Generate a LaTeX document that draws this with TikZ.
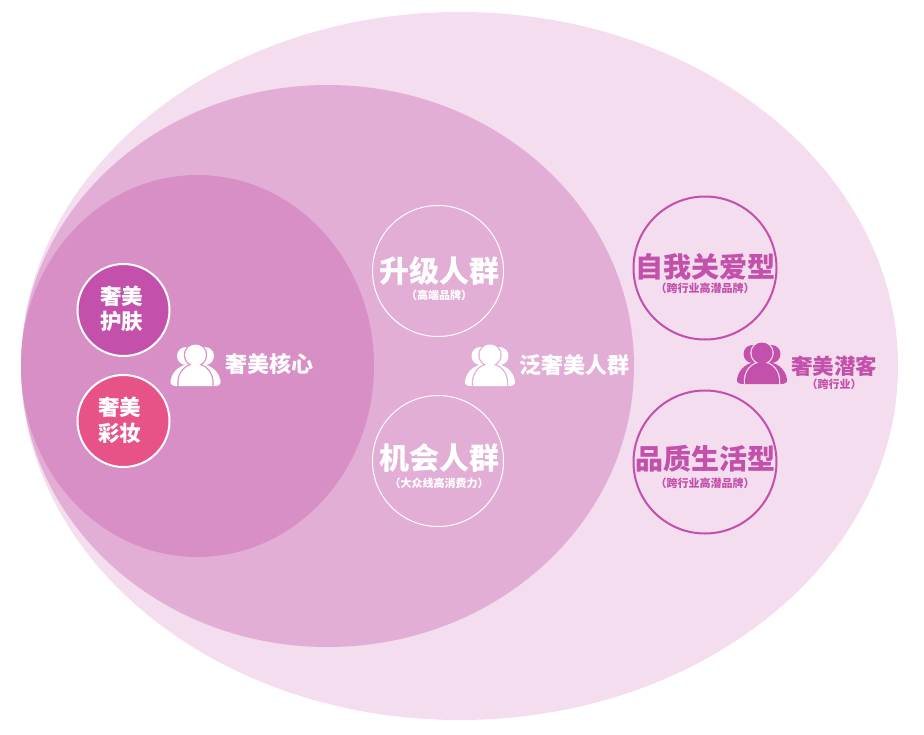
\documentclass[tikz,border=0pt]{standalone}
\usepackage{fontspec}
\setmainfont{Noto Sans CJK SC}[BoldFont={Noto Sans CJK SC Black}]
\definecolor{outerpink}{HTML}{F3DDEE}
\definecolor{midpink}{HTML}{E2AED6}
\definecolor{corepink}{HTML}{D88FC5}
\definecolor{magentatxt}{HTML}{C350AA}
\definecolor{rosefill}{HTML}{E75389}
\tikzset{
	whitering/.style={circle, draw=white, line width=1pt, minimum size=131pt, inner sep=0pt},
	magring/.style={circle, draw=magentatxt, line width=2pt, minimum size=143pt, inner sep=0pt},
	smallring/.style={circle, draw=white, line width=2pt, minimum size=92pt, inner sep=0pt},
	smalltxt/.style={inner sep=0pt, text=white, align=center, font=\fontsize{21.5}{25.5}\selectfont\bfseries},
	bigtxt/.style={inner sep=0pt, font=\fontsize{#1}{#1}\selectfont\bfseries},
	subtxt/.style={inner sep=0pt, font=\fontsize{11}{11}\selectfont\bfseries}
}
\newcommand{\personicon}[3]{
	\begin{scope}[shift={#1}]
		% the two behind
		\fill[#2] (-9.5,1) circle (9);
		\fill[#2] (9.5,1) circle (9);
		\fill[#2] (-25,26) .. controls (-23,15) and (-14,9) .. (-4,9) -- (-4,31) -- (-19,31) .. controls (-22,31) and (-26,30) .. (-25,26) -- cycle;
		\fill[#2] (25,26) .. controls (23,15) and (14,9) .. (4,9) -- (4,31) -- (19,31) .. controls (22,31) and (26,30) .. (25,26) -- cycle;
		% the one in front
		\filldraw[#3, line width=2.5pt] (0,0) circle (10.5);
		\filldraw[#3, line width=2.5pt] (-17,31) .. controls (-18,18) and (-10,9.5) .. (0,9.5) .. controls (10,9.5) and (18,18) .. (17,31) -- cycle;
		\fill[#2] (0,0) circle (10.5);
		\fill[#2] (-17,31) .. controls (-18,18) and (-10,9.5) .. (0,9.5) .. controls (10,9.5) and (18,18) .. (17,31) -- cycle;
	\end{scope}
}
\begin{document}
\begin{tikzpicture}[x=1pt, y=-1pt]
	\useasboundingbox (0,0) rectangle (924,734);
	% three nested groups
	\fill[outerpink] (459.5,366) ellipse (438.5 and 354);
	\fill[midpink] (327.5,366) ellipse (306.5 and 281);
	\fill[corepink] (197.5,366) ellipse (176.5 and 191);

	% core group
	\node[smallring, fill=magentatxt] (hufu) at (123.5,310) {};
	\node[smallring, fill=rosefill] (caizhuang) at (123.5,421) {};
	\node[smalltxt] (hufutxt) at (121.5,309) {奢美\\护肤};
	\node[smalltxt] (caizhuangtxt) at (119.5,420) {奢美\\彩妆};
	\personicon{(195.5,355)}{white}{corepink}
	\node[bigtxt=22, text=white, anchor=west] (hexin) at (225,364) {奢美核心};

	% wider group
	\node[whitering] (shengji) at (438,271) {};
	\node[whitering] (jihui) at (438,461) {};
	\node[bigtxt=30, text=white] (shengjitxt) at (439,271) {升级人群};
	\node[subtxt, text=white] (shengjisub) at (439,295) {（高端品牌）};
	\node[bigtxt=30, text=white] (jihuitxt) at (439,458) {机会人群};
	\node[subtxt, text=white] (jihuisub) at (439,483) {（大众线高消费力）};
	\personicon{(490,355)}{white}{midpink}
	\node[bigtxt=22, text=white, anchor=west] (fan) at (519,365) {泛奢美人群};

	% potential group
	\node[magring] (ziwo) at (705,268) {};
	\node[magring] (pinzhi) at (705,462) {};
	\node[bigtxt=28, text=magentatxt] (ziwotxt) at (705.5,267) {自我关爱型};
	\node[subtxt, text=magentatxt] (ziwosub) at (705,288) {（跨行业高潜品牌）};
	\node[bigtxt=28, text=magentatxt] (pinzhitxt) at (705.5,459) {品质生活型};
	\node[subtxt, text=magentatxt] (pinzhisub) at (705,483) {（跨行业高潜品牌）};
	\personicon{(762,353)}{magentatxt}{outerpink}
	\node[bigtxt=21.5, text=magentatxt, anchor=west] (qianke) at (791,366) {奢美潜客};
	\node[subtxt, text=magentatxt] (qiankesub) at (834,384) {（跨行业）};
\end{tikzpicture}
\end{document}
